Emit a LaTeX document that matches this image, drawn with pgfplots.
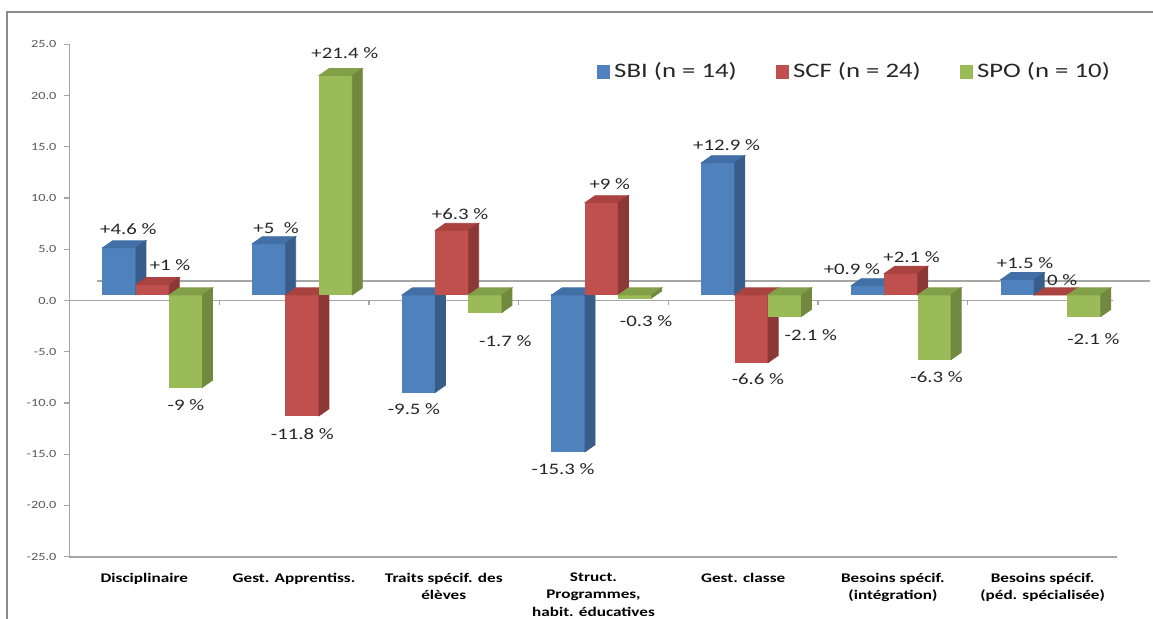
\documentclass[border=0pt]{standalone}
\usepackage{fontspec}
\setmainfont{Carlito}[FakeStretch=1.3]
\usepackage{pgfplots}
\usepackage{pgfplotstable}
\pgfplotsset{compat=1.18}

\definecolor{sbiF}{HTML}{4F81BD}
\definecolor{sbiT}{HTML}{416FA6}
\definecolor{sbiS}{HTML}{385D8A}
\definecolor{scfF}{HTML}{C0504D}
\definecolor{scfT}{HTML}{A84340}
\definecolor{scfS}{HTML}{8C3836}
\definecolor{spoF}{HTML}{9BBB59}
\definecolor{spoT}{HTML}{82A047}
\definecolor{spoS}{HTML}{71893F}
\definecolor{axisgray}{HTML}{A6A6A6}
\definecolor{framegray}{HTML}{8C8C8C}
\definecolor{tickgray}{HTML}{595959}
\definecolor{labtext}{HTML}{262626}

\newcommand\unity{5.124}
\newcommand\fronty{2.8}
\newcommand\bw{8.3}
\newcommand\ddx{5}
\newcommand\ddy{3.5}

% columns: category, value, label, label offset x (pt), label offset y (pt)
\pgfplotstableread{
x v lab dx dy
0 4.6 {+4.6 \%} 4.5 12.2
1 5 {+5\ \ \%} 3.5 10.7
2 -9.5 {-9.5 \%} -2.4 -5.7
3 -15.3 {-15.3 \%} -2.7 -6
4 12.9 {+12.9 \%} 4.2 11.5
5 0.9 {+0.9 \%} -8 10.9
6 1.5 {+1.5 \%} 3.7 11.2
}\sbi
\pgfplotstableread{
x v lab dx dy
0 1 {+1 \%} 8.7 12.4
1 -11.8 {-11.8 \%} 0 -6.4
2 6.3 {+6.3 \%} 4 10.7
3 9 {+9 \%} 4 11.9
4 -6.6 {-6.6 \%} 3.2 -5.5
5 2.1 {+2.1 \%} 5.2 10.9
6 0 {0 \%} 5.6 10
}\scf
\pgfplotstableread{
x v lab dx dy
0 -9 {-9 \%} 0 -6.4
1 21.4 {+21.4 \%} 4.6 14
2 -1.7 {-1.7 \%} 10 -11.7
3 -0.3 {-0.3 \%} 5.5 -9
4 -2.1 {-2.1 \%} 13 -6.3
5 -6.3 {-6.3 \%} 1 -6
6 -2.1 {-2.1 \%} 4.6 -8.3
}\spo

\pgfplotsset{
  bar3d/.style n args={4}{%
    scatter, only marks, mark=*, mark size=0pt,
    mark options={draw=none,fill=none},
    visualization depends on={\thisrow{v} \as \valy},
    scatter/@pre marker code/.code={%
      \begingroup
      \pgfkeys{/pgf/fpu=true,/pgf/fpu/output format=fixed}%
      \pgfmathsetmacro\hh{-\unity*(\valy)}%
      \pgfmathsetmacro\yt{max(0,\hh)+\fronty}%
      \pgfmathsetmacro\yb{min(0,\hh)+\fronty}%
      \pgfmathsetmacro\xl{#1-\bw}%
      \pgfmathsetmacro\xr{#1+\bw}%
      \pgfmathsetmacro\xlb{\xl+\ddx}%
      \pgfmathsetmacro\xrb{\xr+\ddx}%
      \pgfmathsetmacro\ytb{\yt+\ddy}%
      \pgfmathsetmacro\ybb{\yb+\ddy}%
      \pgfkeys{/pgf/fpu=false}%
      \fill[#2] (\xl pt,\yb pt) rectangle (\xr pt,\yt pt);%
      \fill[#3] (\xl pt,\yt pt) -- (\xr pt,\yt pt) -- (\xrb pt,\ytb pt) -- (\xlb pt,\ytb pt) -- cycle;%
      \fill[#4] (\xr pt,\yb pt) -- (\xrb pt,\ybb pt) -- (\xrb pt,\ytb pt) -- (\xr pt,\yt pt) -- cycle;%
      \endgroup
    },
    scatter/@post marker code/.code={},
    legend image code/.code={\fill[#2] (0pt,-3.1pt) rectangle (6.2pt,3.1pt);},
  },
  lab3d/.style={%
    only marks, mark=none, forget plot,
    nodes near coords, point meta=explicit symbolic,
    visualization depends on={\thisrow{dx} \as \ldx},
    visualization depends on={\thisrow{dy} \as \ldy},
    every node near coord/.append style={anchor=center, inner sep=0pt,
      font=\fontsize{8}{9}\selectfont, text=labtext,
      xshift=#1pt, xshift=\ldx pt, yshift=\ldy pt},
  },
}

\begin{document}
\begin{tikzpicture}
\useasboundingbox (-34.75pt,-31.15pt) rectangle (541.75pt,278.35pt);
\begin{scope}
\clip (-34.75pt,-31.15pt) rectangle (541.75pt,278.35pt);
\draw[framegray, line width=0.9pt] (-31.25pt,-60pt) rectangle (600pt,272.35pt);
\end{scope}
\begin{axis}[
  scale only axis, width=524pt, height=256.2pt,
  at={(0,0)}, anchor=south west,
  xmin=-0.5, xmax=6.5, ymin=-25, ymax=25,
  clip=false,
  axis lines*=left,
  axis line style={-, draw=axisgray, line width=0.9pt},
  xtick={0,...,6},
  xticklabels={Disciplinaire, Gest. Apprentiss., Traits spécif. des\\élèves, {Struct.\\Programmes,\\habit. éducatives}, Gest. classe, Besoins spécif.\\(intégration), Besoins spécif.\\(péd. spécialisée)},
  x tick style={draw=none},
  xticklabel style={align=center, anchor=north, font=\bfseries\fontsize{6.6}{8.7}\selectfont, text=black, yshift=-2pt},
  ytick={-25,-20,...,25},
  ytick pos=left,
  tick align=outside, major tick length=2.5pt,
  y tick style={draw=axisgray, line width=0.7pt},
  /pgf/number format/assume math mode=true,
  yticklabel style={/pgf/number format/.cd, fixed, fixed zerofill, precision=1, /tikz/.cd, font=\fontsize{5.5}{6}\selectfont, text=tickgray, xshift=-0.5pt},
  legend columns=3,
  legend style={at={(0.503,0.946)}, anchor=west, draw=none, fill=none, inner sep=0pt,
    font=\fontsize{10.3}{12}\selectfont, text=labtext,
    /tikz/every even column/.append style={column sep=17.5pt}},
]
% 3D floor lines
\draw[axisgray, line width=0.9pt] (axis cs:-0.316,1.88) -- (axis cs:6.72,1.88);
\draw[axisgray, line width=0.9pt] (axis cs:-0.5,0) -- (axis cs:6.47,0);
\pgfplotsinvokeforeach{0.5,1.5,2.5,3.5,4.5,5.5}{\draw[axisgray, line width=0.7pt] (axis cs:#1,0) -- (axis cs:#1,-0.4);}

\addplot[bar3d={-12.5}{sbiF}{sbiT}{sbiS}] table[x=x,y=v] {\sbi};
\addplot[bar3d={4.15}{scfF}{scfT}{scfS}] table[x=x,y=v] {\scf};
\addplot[bar3d={20.8}{spoF}{spoT}{spoS}] table[x=x,y=v] {\spo};

\addplot[lab3d={-12.5}] table[x=x,y=v,meta=lab] {\sbi};
\addplot[lab3d={4.15}] table[x=x,y=v,meta=lab] {\scf};
\addplot[lab3d={20.8}] table[x=x,y=v,meta=lab] {\spo};

\legend{SBI (n = 14), SCF (n = 24), SPO (n = 10)}
\end{axis}
\end{tikzpicture}
\end{document}
